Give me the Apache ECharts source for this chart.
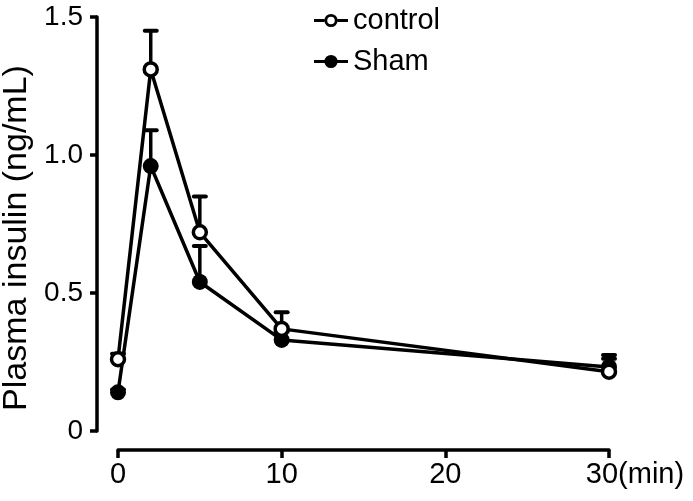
<!DOCTYPE html>
<html>
<head>
<meta charset="utf-8">
<script src="https://cdn.jsdelivr.net/npm/echarts@6/dist/echarts.min.js"></script>
<style>html,body{margin:0;padding:0;background:#fff}#c{width:693px;height:501px}</style>
</head>
<body>
<div id="c"></div>
<script>
const times = [0, 2, 5, 10, 30];
const controlMean = [0.26, 1.31, 0.72, 0.37, 0.215];
const controlErr = [0.02, 0.14, 0.13, 0.06, 0.06];
const shamMean = [0.14, 0.96, 0.54, 0.33, 0.232];
const shamErr = [0.01, 0.13, 0.13, 0.03, 0.03];
const xTicks = [0, 10, 20, 30];
const yTicks = [0, 0.5, 1.0, 1.5];

const FONT = 'Liberation Sans';
const chart = echarts.init(document.getElementById('c'));

function errSeries(name, mean, err) {
  return {
    type: 'custom',
    name: name + '_err',
    z: 1,
    silent: true,
    data: times.map((t, i) => [t, mean[i], mean[i] + err[i]]),
    renderItem: function (params, api) {
      const p0 = api.coord([api.value(0), api.value(1)]);
      const p1 = api.coord([api.value(0), api.value(2)]);
      const hw = 6;
      return {
        type: 'group',
        children: [
          { type: 'line', shape: { x1: p0[0], y1: p0[1], x2: p1[0], y2: p1[1] }, style: { stroke: '#000', lineWidth: 3.5 } },
          { type: 'line', shape: { x1: p1[0] - hw, y1: p1[1], x2: p1[0] + hw, y2: p1[1] }, style: { stroke: '#000', lineWidth: 4, lineCap: 'round' } }
        ]
      };
    }
  };
}

const ICON_OPEN = 'path://M0,5.5 L11,5.5 L11,8.5 L0,8.5 Z M25,5.5 L36,5.5 L36,8.5 L25,8.5 Z M18,0 A7,7 0 1 1 18,14 A7,7 0 1 1 18,0 Z M18,3 A4,4 0 1 0 18,11 A4,4 0 1 0 18,3 Z';
const ICON_FILLED = 'path://M0,5.5 L12,5.5 L12,8.5 L0,8.5 Z M24,5.5 L36,5.5 L36,8.5 L24,8.5 Z M18,0 A7,7 0 1 1 18,14 A7,7 0 1 1 18,0 Z';

const option = {
  animation: false,
  backgroundColor: '#fff',
  grid: { left: 118, right: 84, top: 17, bottom: 70, containLabel: false, outerBoundsMode: 'none' },
  legend: {
    orient: 'vertical',
    left: 309,
    top: 1,
    itemWidth: 34,
    itemHeight: 14,
    itemGap: 12,
    textStyle: { fontFamily: FONT, fontSize: 29, color: '#000' },
    data: [
      { name: 'control', icon: ICON_OPEN, itemStyle: { color: '#000', borderWidth: 0 } },
      { name: 'Sham', icon: ICON_FILLED, itemStyle: { color: '#000', borderWidth: 0 } }
    ]
  },
  xAxis: {
    type: 'value',
    min: 0, max: 30, interval: 10,
    offset: 19,
    splitLine: { show: false },
    axisLine: { show: true, onZero: false, lineStyle: { color: '#000', width: 3.5 } },
    axisTick: { show: true, length: 8, lineStyle: { color: '#000', width: 3.5 } },
    axisLabel: {
      color: '#000', fontFamily: FONT, fontSize: 29, margin: 10,
      formatter: function (v) { return v === 30 ? '{pad|}30(min)' : String(v); },
      rich: { pad: { width: 52 } }
    }
  },
  yAxis: {
    type: 'value',
    min: 0, max: 1.5, interval: 0.5,
    offset: 21,
    splitLine: { show: false },
    name: 'Plasma insulin (ng/mL)',
    nameLocation: 'middle',
    nameRotate: 90,
    nameGap: 46,
    nameTextStyle: { fontFamily: FONT, fontSize: 34, color: '#000', padding: [0, 28, 0, 0] },
    axisLine: { show: true, onZero: false, lineStyle: { color: '#000', width: 3.5 } },
    axisTick: { show: true, length: 7, lineStyle: { color: '#000', width: 3.5 } },
    axisLabel: {
      color: '#000', fontFamily: FONT, fontSize: 28, margin: 14,
      formatter: function (v) { return v === 0 ? '0' : v.toFixed(1); }
    }
  },
  series: [
    errSeries('control', controlMean, controlErr),
    errSeries('Sham', shamMean, shamErr),
    {
      name: 'Sham', type: 'line', z: 3,
      data: times.map((t, i) => [t, shamMean[i]]),
      symbol: 'circle', symbolSize: 16,
      lineStyle: { color: '#000', width: 3.5 },
      itemStyle: { color: '#000', borderColor: '#000', borderWidth: 0 }
    },
    {
      name: 'control', type: 'line', z: 4,
      data: times.map((t, i) => [t, controlMean[i]]),
      symbol: 'circle', symbolSize: 13,
      lineStyle: { color: '#000', width: 3.5 },
      itemStyle: { color: '#fff', borderColor: '#000', borderWidth: 3.5 }
    }
  ]
};
chart.setOption(option);
</script>
</body>
</html>
